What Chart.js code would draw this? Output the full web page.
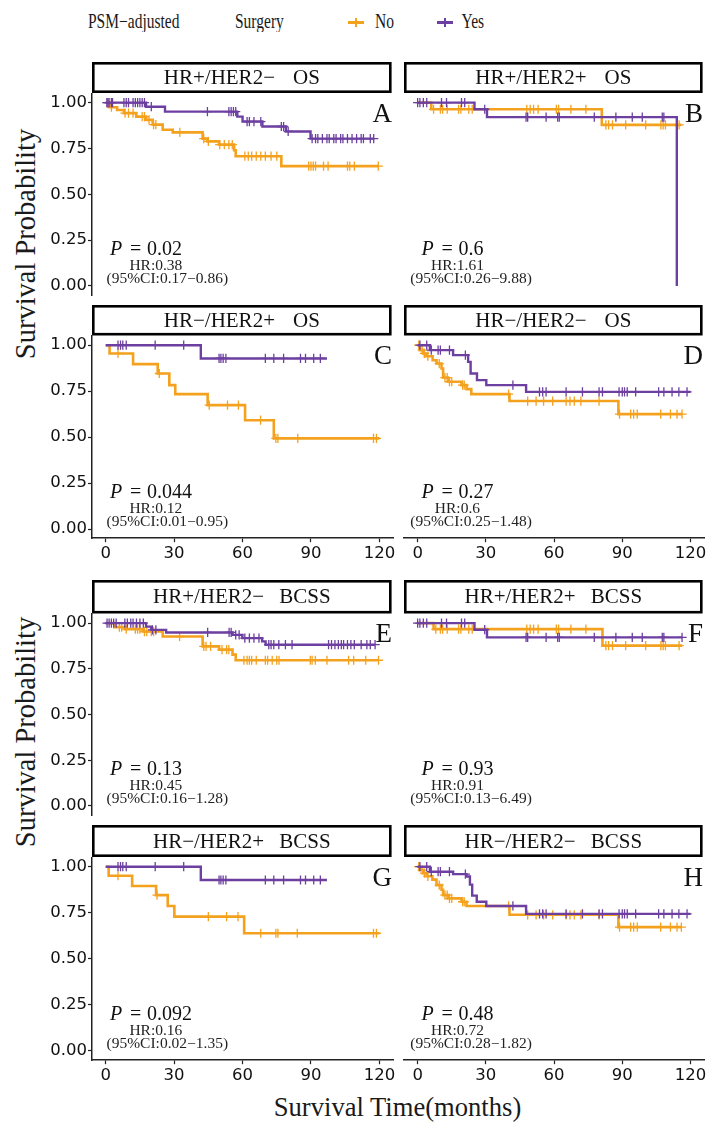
<!DOCTYPE html>
<html>
<head>
<meta charset="utf-8">
<script src="https://cdn.jsdelivr.net/npm/chart.js@4.4.1/dist/chart.umd.min.js"></script>
<style>
  body { margin: 0; background: #fff; }
  #page { position: relative; width: 710px; height: 1122px; overflow: hidden; font-family: "Liberation Serif", "Times New Roman", serif; color: #1a1a1a; }
  #page canvas { position: absolute; }
  .lab { position: absolute; white-space: nowrap; line-height: 1; }
  .leg { font-size: 15.5px; transform: scaleY(1.3); transform-origin: 0 0; top: 11.3px; }
  .ytitle { font-size: 28.5px; transform: translate(-50%, -50%) rotate(-90deg); }
  .key { position: absolute; }
</style>
</head>
<body>
<div id="page">
  <div class="lab leg" style="left:88px;">PSM−adjusted</div>
  <div class="lab leg" style="left:235px;">Surgery</div>
  <div class="key" style="left:348px; top:21px; width:16px; height:2.6px; background:#F4A11E;"></div>
  <div class="key" style="left:355.3px; top:17.5px; width:1.5px; height:9.5px; background:#F4A11E;"></div>
  <div class="lab leg" style="left:375px;">No</div>
  <div class="key" style="left:437px; top:21px; width:16px; height:2.6px; background:#6C3FA0;"></div>
  <div class="key" style="left:444.3px; top:17.5px; width:1.5px; height:9.5px; background:#6C3FA0;"></div>
  <div class="lab leg" style="left:461.5px;">Yes</div>
  <div class="lab ytitle" style="left:25.5px; top:244px;">Survival Probability</div>
  <div class="lab ytitle" style="left:25.5px; top:731.5px;">Survival Probability</div>
  <div class="lab" style="left:397.5px; top:1094.2px; font-size:26.6px; transform:translateX(-50%);">Survival Time(months)</div>
</div>
<script>
// axis ticks
const monthTicks = [0, 30, 60, 90, 120];
const probTicks = [0, 0.25, 0.5, 0.75, 1];

// panel labels and statistics
const subtypes = ['HR+/HER2−', 'HR+/HER2+', 'HR−/HER2+', 'HR−/HER2−', 'HR+/HER2−', 'HR+/HER2+', 'HR−/HER2+', 'HR−/HER2−'];
const endpoints = ['OS', 'OS', 'OS', 'OS', 'BCSS', 'BCSS', 'BCSS', 'BCSS'];
const panelLetters = ['A', 'B', 'C', 'D', 'E', 'F', 'G', 'H'];
const pValues = ['0.02', '0.6', '0.044', '0.27', '0.13', '0.93', '0.092', '0.48'];
const hrValues = ['0.38', '1.61', '0.12', '0.6', '0.45', '0.91', '0.16', '0.72'];
const ciValues = ['0.17−0.86', '0.26−9.88', '0.01−0.95', '0.25−1.48', '0.16−1.28', '0.13−6.49', '0.02−1.35', '0.28−1.82'];

// Kaplan-Meier steps: time (months) and survival after each step, plus censor times
const aNoTime = [0, 1.7, 5, 8, 13.4, 17.7, 20.6, 25, 29.4, 42.5, 44.6, 49.7, 56.3, 57, 77, 119.5];
const aNoSurv = [1, 0.975, 0.96, 0.943, 0.924, 0.906, 0.88, 0.852, 0.838, 0.804, 0.789, 0.771, 0.74, 0.708, 0.654, 0.654];
const aNoCens = [1, 2.5, 8.5, 10, 12, 16, 17, 19, 21, 22, 32.5, 43, 45, 50, 52, 54, 55.5, 61, 62.5, 64, 66, 68, 70, 72.5, 75, 89, 90, 91, 92, 95.5, 97.5, 106, 107, 109, 119.5];
const aYesTime = [0, 17.7, 26, 57.7, 60, 68.7, 79, 89.8, 117.5];
const aYesSurv = [1, 0.978, 0.951, 0.924, 0.897, 0.87, 0.843, 0.804, 0.804];
const aYesCens = [0.5, 1, 1.5, 2.5, 3, 8, 9, 10, 12, 13, 14, 15, 16, 17, 20, 44.6, 54, 55, 56, 57, 62, 63, 65, 68, 77, 78, 80, 90.5, 92, 93, 95, 97, 98, 100, 101, 103, 104, 106, 108, 110, 112, 113, 116, 117.5];

const bNoTime = [0, 6, 81, 116];
const bNoSurv = [1, 0.964, 0.879, 0.879];
const bNoCens = [7, 10, 11, 13, 18, 19, 22.5, 24, 48, 49.5, 51, 53, 61, 62, 67.4, 74, 82.8, 84, 85.7, 91.5, 100.3, 107, 108, 109, 115];
const bYesTime = [0, 25, 30.5, 114];
const bYesSurv = [1, 0.964, 0.921, 0];
const bYesCens = [0, 1, 2.5, 4, 10.5, 12.7, 19.3, 20.7, 29.5, 47.7, 48.4, 56.5, 61.6, 62.3, 77.7, 87.2, 94.4, 98.8, 107.6, 108.3];

const cNoTime = [0, 1.7, 12, 22.8, 27.9, 30.5, 44.7, 61.1, 73.7, 120];
const cNoSurv = [1, 0.955, 0.897, 0.846, 0.783, 0.734, 0.674, 0.592, 0.493, 0.493];
const cNoCens = [5.4, 23.5, 45.4, 53.4, 58.2, 67.9, 74.6, 75.5, 84.2, 117.4, 118.7];
const cYesTime = [0, 41.7, 97];
const cYesSurv = [1, 0.928, 0.928];
const cYesCens = [5.4, 6.5, 7.5, 9, 21.7, 34.2, 49.7, 50.5, 51.5, 52.7, 70, 73.7, 78, 85.4, 87.6, 91.2, 94.1];

const dNoTime = [0, 1, 2.5, 3.9, 6.6, 8.3, 10.5, 11.2, 13.4, 19.3, 21.5, 23.6, 40.4, 88.3, 116.3];
const dNoSurv = [1, 0.973, 0.955, 0.94, 0.918, 0.9, 0.873, 0.824, 0.801, 0.783, 0.761, 0.734, 0.696, 0.625, 0.625];
const dNoCens = [0.5, 2, 3, 4.5, 9.5, 12, 13, 14, 15, 19.8, 20.5, 40, 48.4, 52.1, 55.4, 59.4, 65.3, 67, 68.9, 71.8, 79.8, 88.8, 93.7, 95, 96.6, 106.9, 111.2, 114.1, 116.3];
const dYesTime = [0, 5.4, 15.6, 22.2, 23.3, 26.1, 30.2, 47.7, 120];
const dYesSurv = [1, 0.973, 0.946, 0.909, 0.846, 0.81, 0.783, 0.746, 0.746];
const dYesCens = [1, 4, 6, 9, 10, 14, 21, 41.9, 53.6, 55, 56.5, 65.3, 72.5, 79.8, 81.3, 88.6, 90, 91, 92.2, 95.9, 106, 108.3, 111.9, 114.9, 118.5];

const eNoTime = [0, 3.9, 8.4, 16.3, 25, 42.5, 49.7, 55.6, 57, 119.6];
const eNoSurv = [1, 0.978, 0.967, 0.954, 0.927, 0.873, 0.855, 0.828, 0.797, 0.797];
const eNoCens = [6, 7, 9, 13, 14, 15, 17, 18, 20, 21, 32.4, 43, 44, 46, 51, 53, 54, 60.6, 62, 63, 64, 66, 70, 71, 73, 75, 76, 89.7, 90.5, 91.9, 97, 106.5, 108.7, 114, 119.6];
const eYesTime = [0, 17.7, 19.9, 26.5, 55.6, 59.9, 68.6, 70.1, 118.1];
const eYesSurv = [1, 0.981, 0.963, 0.949, 0.936, 0.918, 0.9, 0.882, 0.882];
const eYesCens = [0.6, 1.5, 2.5, 3.5, 4.6, 8.4, 9.5, 11, 12, 13.5, 15, 16.5, 20.5, 22, 44.7, 54.1, 55, 57, 58.5, 61, 63, 65, 67.2, 71.5, 72.5, 73.7, 75.9, 78.8, 81.7, 97.7, 99, 100.5, 102, 103.3, 104.3, 106, 107.5, 109, 112, 114.5, 116, 118.1];

const fNoTime = [0, 7, 81.3, 116.3];
const fNoSurv = [1, 0.967, 0.877, 0.877];
const fNoCens = [8, 10, 11, 13, 18, 19, 22.5, 24, 48, 49.5, 51, 53, 61, 62, 67.4, 74, 82.8, 84, 85.7, 91.5, 100.3, 107, 108, 109, 115];
const fYesTime = [0, 25, 30.5, 116.3];
const fYesSurv = [1, 0.964, 0.922, 0.922];
const fYesCens = [0, 1, 2.5, 4, 10.5, 12.7, 19.3, 20.7, 29.5, 47.7, 48.4, 56.5, 61.6, 62.3, 77.7, 87.2, 94.4, 98.8, 107.6, 108.3, 116.3];

const gNoTime = [0, 1.3, 11.6, 22.1, 27.2, 30.1, 60.7, 120];
const gNoSurv = [1, 0.951, 0.895, 0.846, 0.787, 0.729, 0.639, 0.639];
const gNoCens = [5.4, 22.5, 45, 53, 58, 68, 74.6, 75.5, 84, 117.4, 118.7];
const gYesTime = [0, 41.7, 97];
const gYesSurv = [1, 0.928, 0.928];
const gYesCens = [5.4, 6.5, 7.5, 9, 21.7, 34.2, 49.7, 50.5, 51.5, 52.7, 70, 73.7, 78, 85.4, 87.6, 91.2, 94.1];

const hNoTime = [0, 1, 2.5, 4, 6.5, 8.3, 10.5, 11.2, 13.4, 19.3, 21.5, 40.4, 88.3, 116];
const hNoSurv = [1, 0.982, 0.965, 0.948, 0.93, 0.9, 0.875, 0.846, 0.828, 0.81, 0.787, 0.739, 0.672, 0.672];
const hNoCens = [0.5, 2, 3, 4.5, 9.5, 12, 13, 14, 15, 19.8, 20.5, 40, 48.4, 52.1, 55.4, 59.4, 65.3, 67, 68.9, 71.8, 79.8, 88.8, 93.7, 95, 96.6, 106.9, 111.2, 114.1, 116];
const hYesTime = [0, 5.4, 15.6, 21.5, 23, 24, 26, 30.2, 47.7, 120];
const hYesSurv = [1, 0.973, 0.96, 0.947, 0.903, 0.843, 0.81, 0.787, 0.744, 0.744];
const hYesCens = [1, 4, 6, 9, 10, 14, 21, 41.9, 53.6, 55, 56.5, 65.3, 72.5, 79.8, 81.3, 88.6, 90, 91, 92.2, 95.9, 106, 108.3, 111.9, 114.9, 118.5];

const noTimes = [aNoTime, bNoTime, cNoTime, dNoTime, eNoTime, fNoTime, gNoTime, hNoTime];
const noSurvs = [aNoSurv, bNoSurv, cNoSurv, dNoSurv, eNoSurv, fNoSurv, gNoSurv, hNoSurv];
const noCens = [aNoCens, bNoCens, cNoCens, dNoCens, eNoCens, fNoCens, gNoCens, hNoCens];
const yesTimes = [aYesTime, bYesTime, cYesTime, dYesTime, eYesTime, fYesTime, gYesTime, hYesTime];
const yesSurvs = [aYesSurv, bYesSurv, cYesSurv, dYesSurv, eYesSurv, fYesSurv, gYesSurv, hYesSurv];
const yesCens = [aYesCens, bYesCens, cYesCens, dYesCens, eYesCens, fYesCens, gYesCens, hYesCens];

const orange = '#F4A11E';
const purple = '#6C3FA0';
const ink = '#111';
const serif = '"Liberation Serif", "Times New Roman", serif';

// page layout of the 4x2 panel grid
const rows = [
  { stripTop: 62, top: 93.5, bottom: 297, xAxis: false },
  { stripTop: 305, top: 336, bottom: 538.2, xAxis: true },
  { stripTop: 580, top: 614, bottom: 816.5, xAxis: false },
  { stripTop: 825, top: 857.5, bottom: 1060.2, xAxis: true }
];
const cols = [
  { canvasLeft: 40, left: 92, right: 394.5, yAxis: true, pX: 1.9, hrX: 22, ciX: 27 },
  { canvasLeft: 398, left: 404, right: 705.4, yAxis: false, pX: 1.75, hrX: 17.5, ciX: 23.5 }
];

function steps(times, surv) {
  return times.map((t, k) => ({ x: t, y: surv[k] }));
}
function survAt(times, surv, t) {
  let s = surv[0];
  for (let k = 0; k < times.length; k++) if (times[k] <= t) s = surv[k];
  return s;
}
function marks(cens, times, surv) {
  return cens.map(t => ({ x: t, y: survAt(times, surv, t) }));
}

function decor(i, row, cTop) {
  return {
    id: 'decor' + i,
    afterDraw(chart) {
      const { ctx, chartArea: a, scales: { x, y } } = chart;
      ctx.save();
      // facet strip
      const sTop = row.stripTop - cTop;
      const sBot = a.top - 0.5;
      const sRight = a.right - 1.5;
      ctx.fillStyle = '#fff';
      ctx.fillRect(a.left, sTop, sRight - a.left, sBot - sTop);
      ctx.strokeStyle = '#000';
      ctx.lineWidth = 2.6;
      ctx.strokeRect(a.left + 1.3, sTop + 1.3, sRight - a.left - 2.6, sBot - sTop - 2.6);
      ctx.fillStyle = ink;
      ctx.font = '21px ' + serif;
      ctx.textBaseline = 'middle';
      ctx.textAlign = 'left';
      const gap = endpoints[i] === 'OS' ? 18 : 15;
      const w1 = ctx.measureText(subtypes[i]).width;
      const w2 = ctx.measureText(endpoints[i]).width;
      const sx = (a.left + sRight) / 2 - (w1 + gap + w2) / 2;
      const sy = (sTop + sBot) / 2 + 1;
      ctx.fillText(subtypes[i], sx, sy);
      ctx.fillText(endpoints[i], sx + w1 + gap, sy);
      // panel letter
      ctx.font = '27px ' + serif;
      ctx.textAlign = 'right';
      ctx.textBaseline = 'alphabetic';
      ctx.fillText(panelLetters[i], a.right - 1, y.getPixelForValue(0.945) + 9);
      // statistics
      const col = cols[i % 2];
      const px = x.getPixelForValue(col.pX);
      const py = y.getPixelForValue(0.17);
      ctx.textAlign = 'left';
      ctx.font = 'italic 20px ' + serif;
      ctx.fillText('P', px, py);
      ctx.font = '20px ' + serif;
      ctx.fillText('=', px + 20, py);
      ctx.fillText(pValues[i], px + 37, py);
      ctx.textAlign = 'center';
      ctx.font = '15.5px ' + serif;
      ctx.fillStyle = '#222';
      const lines = [['HR:' + hrValues[i], col.hrX, 0.086], ['(95%CI:' + ciValues[i] + ')', col.ciX, 0.014]];
      lines.forEach(([txt, tx, ty]) => {
        ctx.save();
        ctx.translate(x.getPixelForValue(tx), y.getPixelForValue(ty));
        ctx.scale(1, 0.95);
        ctx.fillText(txt, 0, 0);
        ctx.restore();
      });
      ctx.restore();
    }
  };
}

const page = document.getElementById('page');
for (let i = 0; i < 8; i++) {
  const row = rows[Math.floor(i / 2)];
  const col = cols[i % 2];
  const cTop = row.stripTop - 3;
  const cH = Math.ceil(row.bottom - cTop + (row.xAxis ? 30 : 4));
  const cW = Math.ceil(col.right - col.canvasLeft + 4);
  const canvas = document.createElement('canvas');
  canvas.width = cW;
  canvas.height = cH;
  canvas.style.left = col.canvasLeft + 'px';
  canvas.style.top = cTop + 'px';
  canvas.style.width = cW + 'px';
  canvas.style.height = cH + 'px';
  page.appendChild(canvas);

  const pad = {
    top: row.top - cTop,
    bottom: cH - (row.bottom - cTop) - (row.xAxis ? 26 : 0),
    left: col.yAxis ? 0 : col.left - col.canvasLeft,
    right: cW - (col.right - col.canvasLeft)
  };
  const tickFont = { family: '"DejaVu Sans", sans-serif', size: 16.5 };

  new Chart(canvas.getContext('2d'), {
    type: 'scatter',
    data: {
      datasets: [
        { data: steps(yesTimes[i], yesSurvs[i]), showLine: true, stepped: true, borderColor: purple, borderWidth: 2.4, pointRadius: 0, order: 0 },
        { data: marks(yesCens[i], yesTimes[i], yesSurvs[i]), pointStyle: 'cross', pointRadius: 4.6, borderColor: purple, borderWidth: 1.3, order: 0 },
        { data: steps(noTimes[i], noSurvs[i]), showLine: true, stepped: true, borderColor: orange, borderWidth: 2.6, pointRadius: 0, order: 1 },
        { data: marks(noCens[i], noTimes[i], noSurvs[i]), pointStyle: 'cross', pointRadius: 4.6, borderColor: orange, borderWidth: 1.3, order: 1 }
      ]
    },
    options: {
      responsive: false,
      animation: false,
      devicePixelRatio: 1,
      layout: { padding: pad },
      plugins: { legend: { display: false }, tooltip: { enabled: false } },
      scales: {
        x: {
          type: 'linear', min: -6, max: 126, display: row.xAxis,
          afterBuildTicks: s => { s.ticks = monthTicks.map(v => ({ value: v })); },
          afterFit: s => { if (row.xAxis) s.height = 26; s.paddingLeft = 0; s.paddingRight = 0; },
          ticks: { font: tickFont, color: ink, padding: 2, maxRotation: 0, autoSkip: false },
          grid: { drawOnChartArea: false, drawTicks: true, tickLength: 4, tickWidth: 1.2, tickColor: '#222' },
          border: { display: true, color: '#222', width: 1.5 }
        },
        y: {
          type: 'linear', min: -0.05, max: 1.05, display: col.yAxis,
          afterBuildTicks: s => { s.ticks = probTicks.map(v => ({ value: v })); },
          afterFit: s => { if (col.yAxis) s.width = col.left - col.canvasLeft; s.paddingTop = 0; s.paddingBottom = 0; },
          ticks: { font: tickFont, color: ink, padding: 1, autoSkip: false, callback: v => v.toFixed(2) },
          grid: { drawOnChartArea: false, drawTicks: true, tickLength: 4, tickWidth: 1.2, tickColor: '#222' },
          border: { display: true, color: '#222', width: 1.5 }
        }
      }
    },
    plugins: [decor(i, row, cTop)]
  });
}
</script>
</body>
</html>
